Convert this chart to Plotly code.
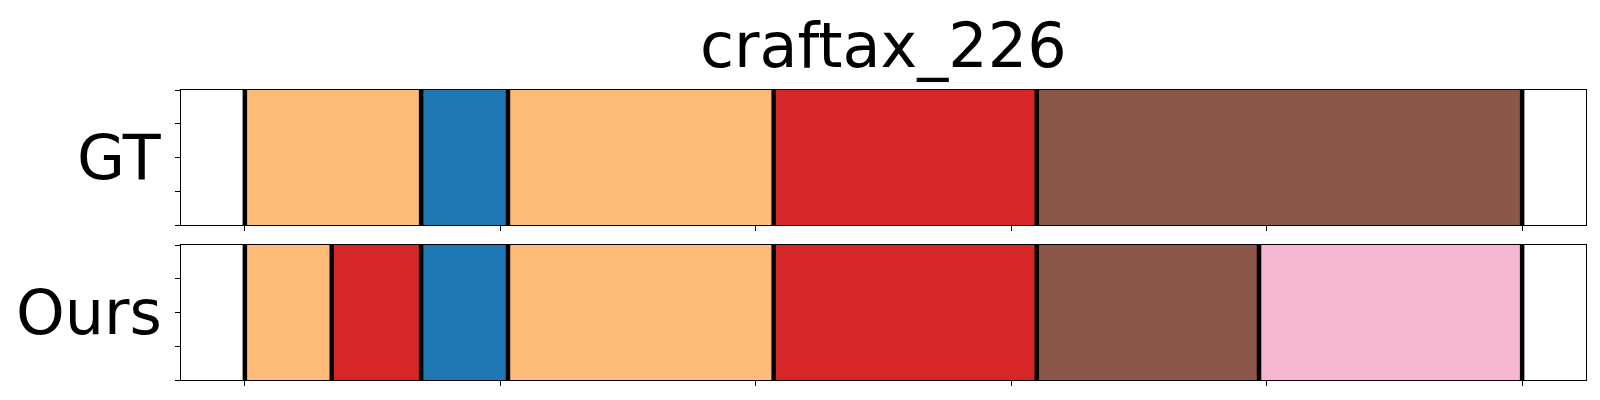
import plotly.graph_objects as go
from plotly.subplots import make_subplots

title_text = "craftax_226"
row_names = ["GT", "Ours"]

# segment boundaries (frame index) and class id of each segment
gt_bounds = [0, 69, 103, 207, 310, 500]
gt_classes = [3, 0, 3, 6, 10]
ours_bounds = [0, 34, 69, 103, 207, 310, 397, 500]
ours_classes = [3, 6, 0, 3, 6, 10, 13]

x_ticks = [0, 100, 200, 300, 400, 500]
y_ticks = [0, 0.25, 0.5, 0.75, 1.0]

palette = {0: "#1f77b4", 3: "#ffbb78", 6: "#d62728", 10: "#8c564b", 13: "#f7b6d2"}

fig = make_subplots(rows=2, cols=1, vertical_spacing=0.069)

rows = [(gt_bounds, gt_classes), (ours_bounds, ours_classes)]
for r, (bounds, classes) in enumerate(rows, start=1):
    starts = bounds[:-1]
    widths = [b - a for a, b in zip(bounds[:-1], bounds[1:])]
    fig.add_trace(go.Bar(
        x=widths, base=starts, y=[0.5] * len(widths), width=1.0,
        orientation="h",
        marker=dict(color=[palette[c] for c in classes], line=dict(width=0)),
        showlegend=False, hoverinfo="skip"), row=r, col=1)
    lx, ly = [], []
    for b in bounds:
        lx += [b, b, None]
        ly += [0, 1, None]
    fig.add_trace(go.Scatter(x=lx, y=ly, mode="lines",
                             line=dict(color="black", width=4.5),
                             showlegend=False, hoverinfo="skip"), row=r, col=1)

axis_common = dict(showline=True, mirror=True, linecolor="black", linewidth=1.3,
                   ticks="outside", ticklen=5, tickwidth=1.2, tickcolor="black",
                   showticklabels=False, showgrid=False, zeroline=False)
for r in (1, 2):
    fig.update_xaxes(range=[-25, 525], tickvals=x_ticks, **axis_common, row=r, col=1)
    fig.update_yaxes(range=[0, 1], tickvals=y_ticks, **axis_common, row=r, col=1)

fig.update_layout(yaxis=dict(domain=[0.5345, 1.0]), yaxis2=dict(domain=[0.0, 0.4655]))

font_main = dict(family="DejaVu Sans", size=62, color="black")
fig.add_annotation(text=title_text, xref="paper", yref="paper", x=0.5, y=1.152,
                   xanchor="center", yanchor="middle", showarrow=False, borderpad=0,
                   font=font_main)
fig.add_annotation(text=row_names[0], xref="paper", yref="paper", x=-0.0123, y=0.767,
                   xanchor="right", yanchor="middle", showarrow=False, font=font_main)
fig.add_annotation(text=row_names[1], xref="paper", yref="paper", x=-0.0123, y=0.233,
                   xanchor="right", yanchor="middle", showarrow=False, font=font_main)

fig.update_layout(width=1600, height=400, barmode="overlay",
                  margin=dict(l=173, r=22, t=82, b=28),
                  plot_bgcolor="white", paper_bgcolor="white")

fig.write_html("out.html")
